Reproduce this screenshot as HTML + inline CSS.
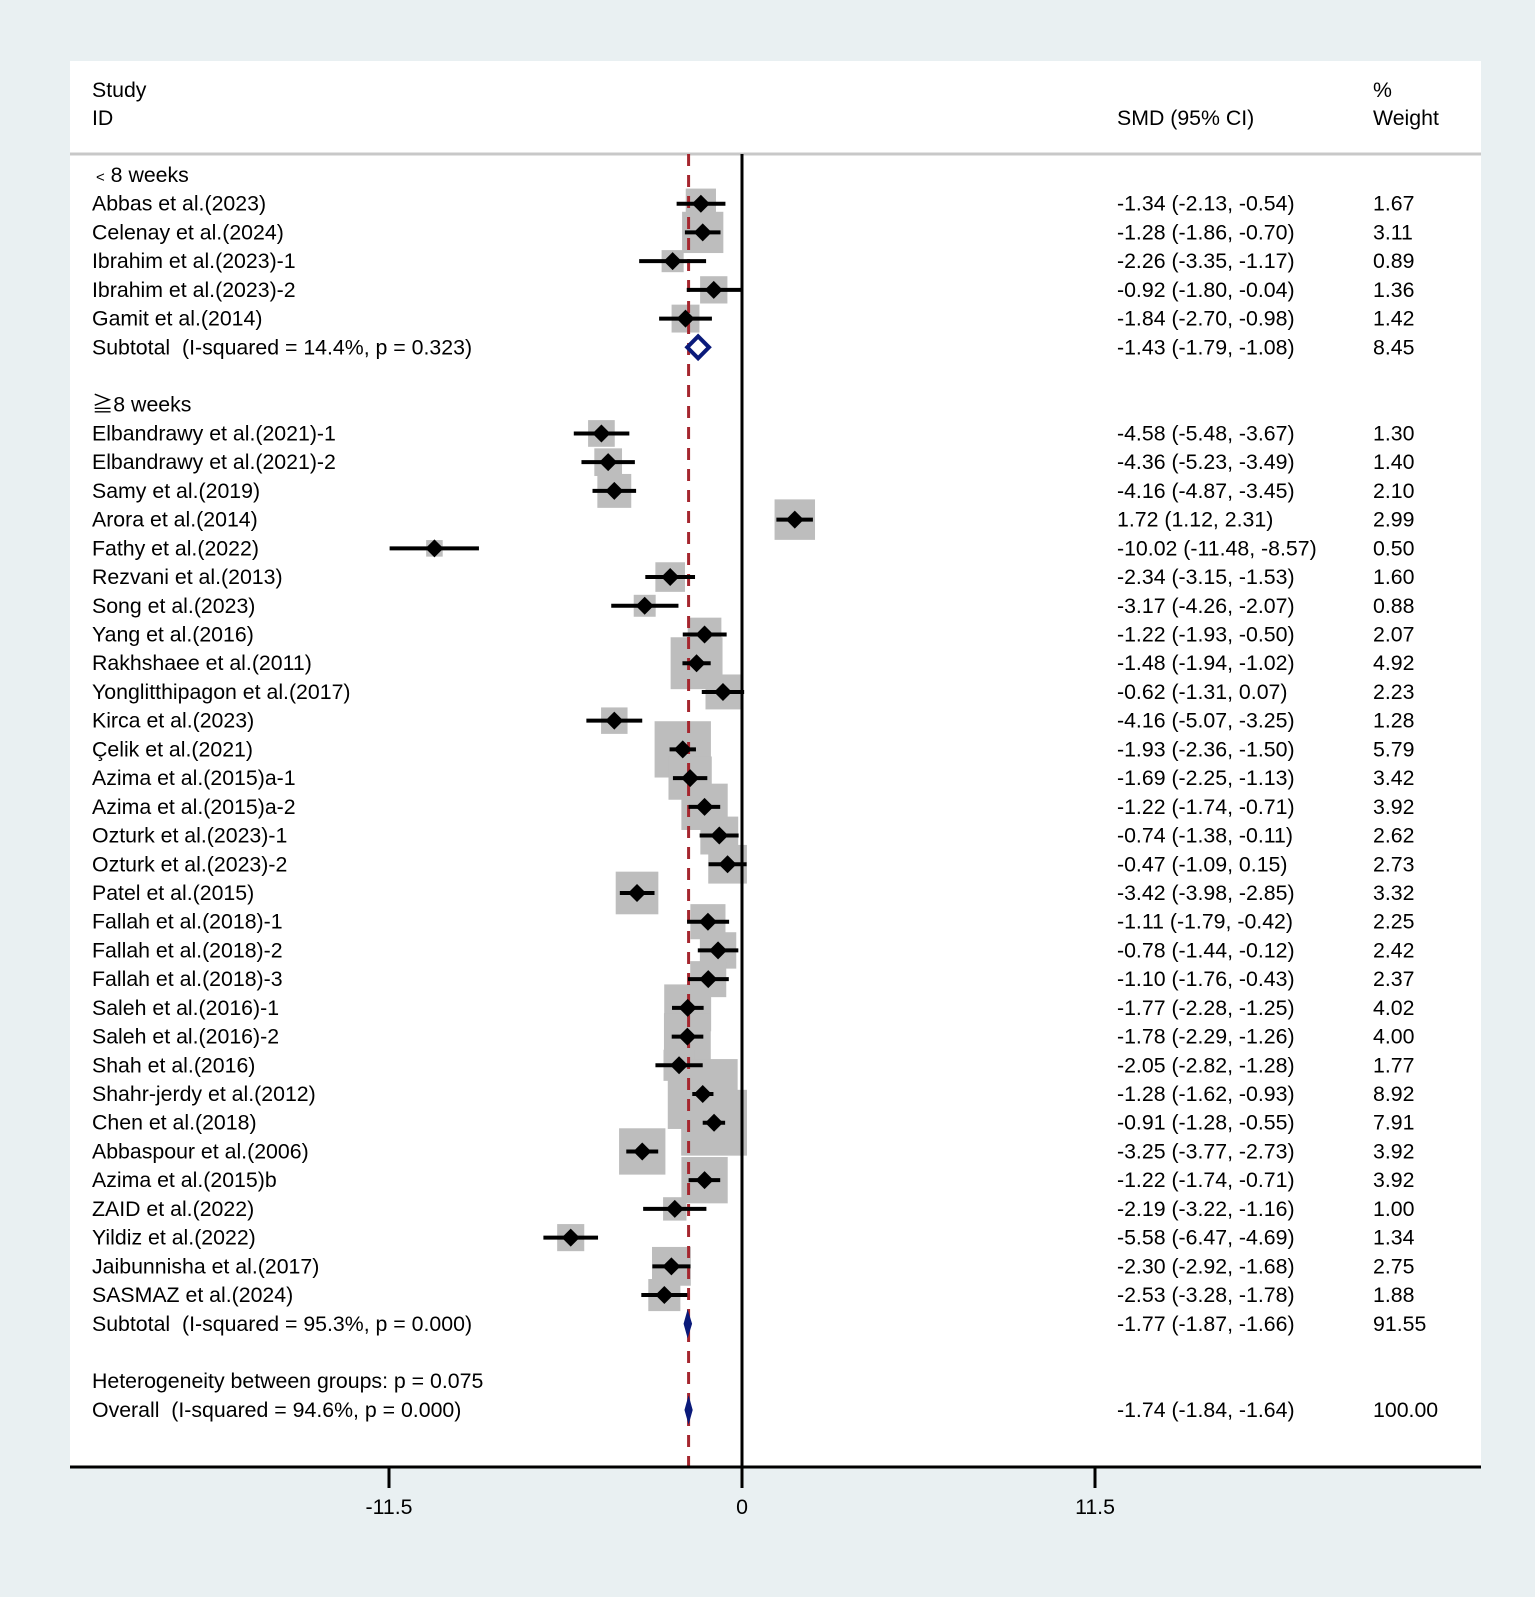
<!DOCTYPE html>
<html><head><meta charset="utf-8">
<style>
body{margin:0;background:#e9f0f2;}
svg{display:block;}
text{font-family:"Liberation Sans","Noto Sans CJK JP",sans-serif;font-size:21.3px;fill:#000;white-space:pre;}
</style></head>
<body>
<svg id="chart" width="1535" height="1597" xmlns="http://www.w3.org/2000/svg" xml:space="preserve">
<rect x="70" y="61" width="1411" height="1406" fill="#fff"/>
<text x="92" y="97">Study</text>
<text x="92" y="125">ID</text>
<text x="1117" y="125">SMD (95% CI)</text>
<text x="1373" y="97">%</text>
<text x="1373" y="125">Weight</text>
<line x1="70" y1="154" x2="1481" y2="154" stroke="#c8c8c8" stroke-width="3"/>
<g id="marks"></g>
</svg>
<script>
const studies1 = ["Abbas et al.(2023)","Celenay et al.(2024)","Ibrahim et al.(2023)-1","Ibrahim et al.(2023)-2","Gamit et al.(2014)"];
const est1 = [-1.34,-1.28,-2.26,-0.92,-1.84];
const lo1 = [-2.13,-1.86,-3.35,-1.80,-2.70];
const hi1 = [-0.54,-0.70,-1.17,-0.04,-0.98];
const w1 = [1.67,3.11,0.89,1.36,1.42];
const studies2 = ["Elbandrawy et al.(2021)-1","Elbandrawy et al.(2021)-2","Samy et al.(2019)","Arora et al.(2014)","Fathy et al.(2022)","Rezvani et al.(2013)","Song et al.(2023)","Yang et al.(2016)","Rakhshaee et al.(2011)","Yonglitthipagon et al.(2017)","Kirca et al.(2023)","Çelik et al.(2021)","Azima et al.(2015)a-1","Azima et al.(2015)a-2","Ozturk et al.(2023)-1","Ozturk et al.(2023)-2","Patel et al.(2015)","Fallah et al.(2018)-1","Fallah et al.(2018)-2","Fallah et al.(2018)-3","Saleh et al.(2016)-1","Saleh et al.(2016)-2","Shah et al.(2016)","Shahr-jerdy et al.(2012)","Chen et al.(2018)","Abbaspour et al.(2006)","Azima et al.(2015)b","ZAID et al.(2022)","Yildiz et al.(2022)","Jaibunnisha et al.(2017)","SASMAZ et al.(2024)"];
const est2 = [-4.58,-4.36,-4.16,1.72,-10.02,-2.34,-3.17,-1.22,-1.48,-0.62,-4.16,-1.93,-1.69,-1.22,-0.74,-0.47,-3.42,-1.11,-0.78,-1.10,-1.77,-1.78,-2.05,-1.28,-0.91,-3.25,-1.22,-2.19,-5.58,-2.30,-2.53];
const lo2 = [-5.48,-5.23,-4.87,1.12,-11.48,-3.15,-4.26,-1.93,-1.94,-1.31,-5.07,-2.36,-2.25,-1.74,-1.38,-1.09,-3.98,-1.79,-1.44,-1.76,-2.28,-2.29,-2.82,-1.62,-1.28,-3.77,-1.74,-3.22,-6.47,-2.92,-3.28];
const hi2 = [-3.67,-3.49,-3.45,2.31,-8.57,-1.53,-2.07,-0.50,-1.02,0.07,-3.25,-1.50,-1.13,-0.71,-0.11,0.15,-2.85,-0.42,-0.12,-0.43,-1.25,-1.26,-1.28,-0.93,-0.55,-2.73,-0.71,-1.16,-4.69,-1.68,-1.78];
const w2 = [1.30,1.40,2.10,2.99,0.50,1.60,0.88,2.07,4.92,2.23,1.28,5.79,3.42,3.92,2.62,2.73,3.32,2.25,2.42,2.37,4.02,4.00,1.77,8.92,7.91,3.92,3.92,1.00,1.34,2.75,1.88];
const sub1 = [-1.43,-1.79,-1.08,8.45];
const sub2 = [-1.77,-1.87,-1.66,91.55];
const overall = [-1.74,-1.84,-1.64,100.00];
const ticks = [-11.5,0,11.5];
const tickLabels = ["-11.5","0","11.5"];

const X0=742, S=353/11.5, Y0=203.7, DY=28.72, K=23.4;
const x = v => X0 + v*S;
const y = r => Y0 + r*DY;
const g = document.getElementById('marks');
const NS='http://www.w3.org/2000/svg';
function mk(tag, attrs, txt){const e=document.createElementNS(NS,tag);for(const k in attrs)e.setAttribute(k,attrs[k]);if(txt!==undefined)e.textContent=txt;g.appendChild(e);return e;}
const f2 = v => v.toFixed(2);
function ci(e,l,h){return f2(e)+" ("+f2(l)+", "+f2(h)+")";}

function boxes(est,w,off){est.forEach((e,i)=>{const s=K*Math.sqrt(w[i]);const b=mk('rect',{x:x(e)-s/2,y:y(off+i)-s/2,width:s,height:s,fill:'#bdbdbd'});

});}
boxes(est1,w1,0); boxes(est2,w2,8);

const zl=mk('line',{x1:X0,y1:154,x2:X0,y2:1467,stroke:'#000','stroke-width':3});


const ol=mk('line',{x1:x(overall[0]),y1:154,x2:x(overall[0]),y2:1467,stroke:'#a5262e','stroke-width':3,'stroke-dasharray':'12 9'});



function rows(names,est,lo,hi,w,off){names.forEach((n,i)=>{const yy=y(off+i);
const t=mk('text',{x:92,y:yy+7},n);


const l=mk('line',{x1:x(lo[i]),y1:yy,x2:x(hi[i]),y2:yy,stroke:'#000','stroke-width':4});


const cx=x(est[i]);
const d=mk('polygon',{points:`${cx-9},${yy} ${cx},${yy-9} ${cx+9},${yy} ${cx},${yy+9}`,fill:'#000'});


const c=mk('text',{x:1117,y:yy+7},ci(est[i],lo[i],hi[i]));


const ww=mk('text',{x:1373,y:yy+7},f2(w[i]));

});}
rows(studies1,est1,lo1,hi1,w1,0);
rows(studies2,est2,lo2,hi2,w2,8);

function summary(arr,row,label,open,name){const yy=y(row);
let l=x(arr[1]),h=x(arr[2]),c=x(arr[0]);
if(open){const hw=Math.max((h-l)/2,10);l=c-hw;h=c+hw;}
const p=mk('polygon',{points:`${l},${yy} ${c},${yy-11} ${h},${yy} ${c},${yy+11}`,fill:open?'none':'#0a1a7a',stroke:'#0a1a7a','stroke-width':open?4:2});


const t=mk('text',{x:92,y:yy+7},label);


const c2=mk('text',{x:1117,y:yy+7},ci(arr[0],arr[1],arr[2]));


const w=mk('text',{x:1373,y:yy+7},f2(arr[3]));

}
summary(sub1,5,"Subtotal  (I-squared = 14.4%, p = 0.323)",true,'subtotal-short');
summary(sub2,39,"Subtotal  (I-squared = 95.3%, p = 0.000)",false,'subtotal-long');
summary(overall,42,"Overall  (I-squared = 94.6%, p = 0.000)",false,'overall');

const g1=mk('text',{x:92,y:y(-1)+7});
g1.innerHTML='<tspan font-size="15" dx="4">&lt;</tspan> 8 weeks';


const g2=mk('text',{x:92,y:y(7)+7},'≧8 weeks');


const het=mk('text',{x:92,y:y(41)+7},'Heterogeneity between groups: p = 0.075');



const ax=mk('line',{x1:70,y1:1467,x2:1481,y2:1467,stroke:'#000','stroke-width':3});


ticks.forEach((t,i)=>{
const tl=mk('line',{x1:x(t),y1:1467,x2:x(t),y2:1488,stroke:'#000','stroke-width':3});


const tx=mk('text',{x:x(t),y:1514,'text-anchor':'middle'},tickLabels[i]);

});
</script>
</body></html>
